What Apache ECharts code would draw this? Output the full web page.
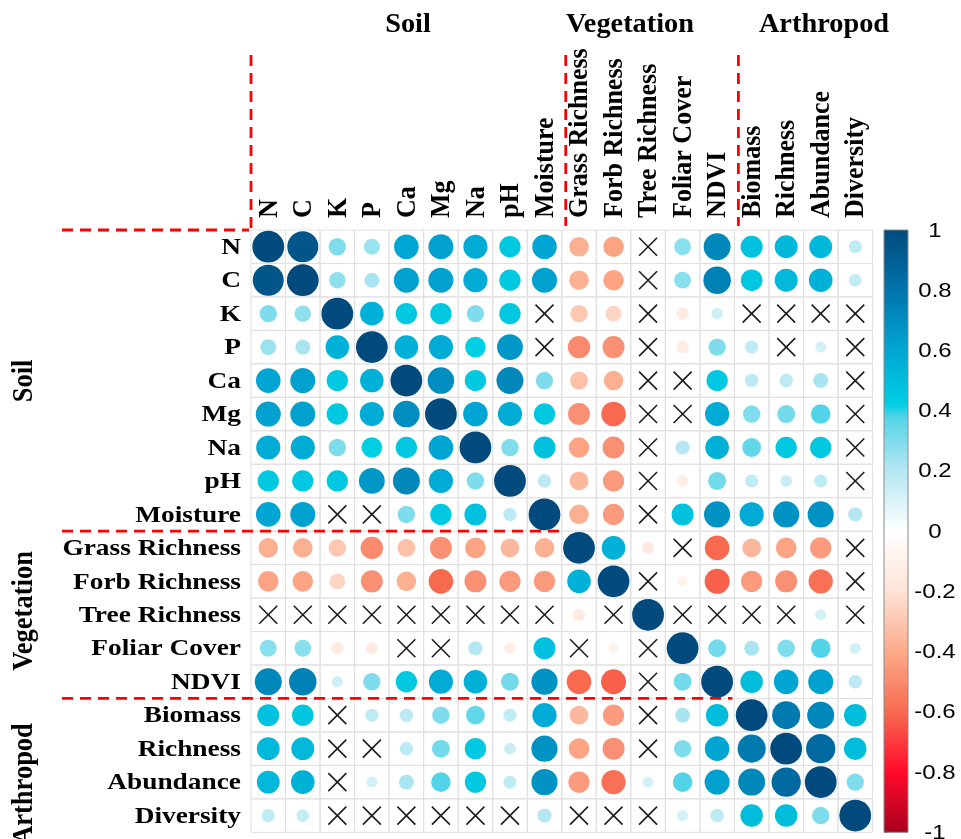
<!DOCTYPE html>
<html>
<head>
<meta charset="utf-8">
<script src="https://cdn.jsdelivr.net/npm/echarts@6/dist/echarts.min.js"></script>
<style>
  html, body { margin: 0; padding: 0; background: #ffffff; }
  #chart { width: 961px; height: 839px; }
</style>
</head>
<body>
<div id="chart"></div>
<script>
// Variables, in matrix order (rows top to bottom, columns left to right)
const varNames = ['N', 'C', 'K', 'P', 'Ca', 'Mg', 'Na', 'pH', 'Moisture',
  'Grass Richness', 'Forb Richness', 'Tree Richness', 'Foliar Cover', 'NDVI',
  'Biomass', 'Richness', 'Abundance', 'Diversity'];

// Variable groups and the index where each one starts
const groupNames = ['Soil', 'Vegetation', 'Arthropod'];
const groupStarts = [0, 9, 14];

// Correlation coefficients, one array per row; null = not significant (cross)
const rowN        = [1.00, 0.95, 0.30, 0.25, 0.60, 0.62, 0.58, 0.45, 0.60, -0.38, -0.42, null, 0.28, 0.72, 0.48, 0.52, 0.52, 0.17];
const rowC        = [0.95, 1.00, 0.27, 0.22, 0.62, 0.62, 0.58, 0.45, 0.62, -0.38, -0.42, null, 0.28, 0.75, 0.46, 0.52, 0.55, 0.16];
const rowK        = [0.30, 0.27, 1.00, 0.55, 0.45, 0.45, 0.30, 0.45, null, -0.30, -0.25, null, -0.15, 0.13, null, null, null, null];
const rowP        = [0.25, 0.22, 0.55, 1.00, 0.55, 0.58, 0.42, 0.66, null, -0.50, -0.48, null, -0.15, 0.30, 0.17, null, 0.12, null];
const rowCa       = [0.60, 0.62, 0.45, 0.55, 1.00, 0.70, 0.45, 0.72, 0.30, -0.32, -0.38, null, null, 0.45, 0.18, 0.18, 0.22, null];
const rowMg       = [0.62, 0.62, 0.45, 0.58, 0.70, 1.00, 0.60, 0.58, 0.45, -0.48, -0.60, null, null, 0.58, 0.30, 0.32, 0.38, null];
const rowNa       = [0.58, 0.58, 0.30, 0.42, 0.45, 0.60, 1.00, 0.30, 0.48, -0.42, -0.48, null, 0.20, 0.55, 0.35, 0.45, 0.45, null];
const rowPH       = [0.45, 0.45, 0.45, 0.66, 0.72, 0.58, 0.30, 1.00, 0.18, -0.35, -0.45, null, -0.13, 0.32, 0.17, 0.14, 0.17, null];
const rowMoisture = [0.60, 0.62, null, null, 0.30, 0.45, 0.48, 0.18, 1.00, -0.38, -0.45, null, 0.48, 0.68, 0.58, 0.68, 0.68, 0.20];
const rowGrass    = [-0.38, -0.38, -0.30, -0.50, -0.32, -0.48, -0.42, -0.35, -0.38, 1.00, 0.55, -0.15, null, -0.60, -0.35, -0.42, -0.45, null];
const rowForb     = [-0.42, -0.42, -0.25, -0.48, -0.38, -0.60, -0.48, -0.45, -0.45, 0.55, 1.00, null, -0.10, -0.62, -0.45, -0.48, -0.58, null];
const rowTree     = [null, null, null, null, null, null, null, null, null, -0.15, null, 1.00, null, null, null, null, 0.12, null];
const rowFoliar   = [0.28, 0.28, -0.15, -0.15, null, null, 0.20, -0.13, 0.48, null, -0.10, null, 1.00, 0.32, 0.22, 0.30, 0.38, 0.12];
const rowNDVI     = [0.72, 0.75, 0.13, 0.30, 0.45, 0.58, 0.55, 0.32, 0.68, -0.60, -0.62, null, 0.32, 1.00, 0.50, 0.60, 0.62, 0.18];
const rowBiomass  = [0.48, 0.46, null, 0.17, 0.18, 0.30, 0.35, 0.17, 0.58, -0.35, -0.45, null, 0.22, 0.50, 1.00, 0.78, 0.72, 0.50];
const rowRichness = [0.52, 0.52, null, null, 0.18, 0.32, 0.45, 0.14, 0.68, -0.42, -0.48, null, 0.30, 0.60, 0.78, 1.00, 0.85, 0.50];
const rowAbund    = [0.52, 0.55, null, 0.12, 0.22, 0.38, 0.45, 0.17, 0.68, -0.45, -0.58, 0.12, 0.38, 0.62, 0.72, 0.85, 1.00, 0.30];
const rowDiv      = [0.17, 0.16, null, null, null, null, null, null, 0.20, null, null, null, 0.12, 0.18, 0.50, 0.50, 0.30, 1.00];

const corrRows = [rowN, rowC, rowK, rowP, rowCa, rowMg, rowNa, rowPH, rowMoisture,
  rowGrass, rowForb, rowTree, rowFoliar, rowNDVI, rowBiomass, rowRichness, rowAbund, rowDiv];

// Colour bar tick values
const colorbarTicks = [1, 0.8, 0.6, 0.4, 0.2, 0, -0.2, -0.4, -0.6, -0.8, -1];

// Diverging palette: value -> colour
const palette = [
  [-1.0, '#a80020'], [-0.8, '#ff0a2a'], [-0.6, '#f76a50'], [-0.4, '#fcaa8a'],
  [-0.2, '#fde3d6'], [0.0, '#ffffff'], [0.2, '#b4e7f2'], [0.38, '#52d4e8'],
  [0.42, '#00cfe3'], [0.6, '#00a6d3'], [0.8, '#0074ab'], [1.0, '#004a7d']
];

function hexToRgb(h) {
  return [parseInt(h.slice(1, 3), 16), parseInt(h.slice(3, 5), 16), parseInt(h.slice(5, 7), 16)];
}
function colorOf(v) {
  for (let k = 0; k < palette.length - 1; k++) {
    const a = palette[k], b = palette[k + 1];
    if (v >= a[0] && v <= b[0]) {
      const t = (v - a[0]) / (b[0] - a[0]);
      const ca = hexToRgb(a[1]), cb = hexToRgb(b[1]);
      const c = ca.map((x, n) => Math.round(x + (cb[n] - x) * t));
      return 'rgb(' + c.join(',') + ')';
    }
  }
  return v < 0 ? palette[0][1] : palette[palette.length - 1][1];
}

const serifBold = '"Liberation Serif", "Times New Roman", serif';

// Matrix cells: [column, row, value, crossFlag]
const cellData = [];
corrRows.forEach((row, i) => row.forEach((v, j) => {
  cellData.push([j, i, v === null ? 0 : v, v === null ? 1 : 0]);
}));

function renderCell(params, api) {
  const c = api.coord([api.value(0), api.value(1)]);
  const s = api.size([1, 1]);
  const w = s[0], h = s[1];
  const children = [{
    type: 'rect',
    shape: { x: c[0] - w / 2, y: c[1] - h / 2, width: w, height: h },
    style: { fill: 'none', stroke: '#e0e0e0', lineWidth: 1 }
  }];
  if (api.value(3) === 1) {
    const d = 9;
    children.push({ type: 'line', shape: { x1: c[0] - d, y1: c[1] - d, x2: c[0] + d, y2: c[1] + d },
      style: { stroke: '#1c1c1c', lineWidth: 1.6 } });
    children.push({ type: 'line', shape: { x1: c[0] - d, y1: c[1] + d, x2: c[0] + d, y2: c[1] - d },
      style: { stroke: '#1c1c1c', lineWidth: 1.6 } });
  } else {
    const v = api.value(2);
    const rad = 0.475 * Math.min(w, h) * Math.sqrt(Math.abs(v));
    children.push({ type: 'circle', shape: { cx: c[0], cy: c[1], r: rad }, style: { fill: colorOf(v) } });
  }
  return { type: 'group', children: children };
}

function renderRowLabel(params, api) {
  const i = api.value(1);
  const c = api.coord([0, i]);
  const w = api.size([1, 1])[0];
  return {
    type: 'text', x: c[0] - w / 2 - 10, y: c[1] + 1, scaleX: 1.14,
    style: { text: varNames[i], font: 'bold 24px ' + serifBold, fill: '#000',
      textAlign: 'right', textVerticalAlign: 'middle' }
  };
}

function renderColLabel(params, api) {
  const j = api.value(0);
  const c = api.coord([j, 0]);
  const h = api.size([1, 1])[1];
  return {
    type: 'text', x: c[0] + 1, y: c[1] - h / 2 - 12, rotation: Math.PI / 2, scaleY: 1.08,
    style: { text: varNames[j], font: 'bold 26px ' + serifBold, fill: '#000',
      textAlign: 'left', textVerticalAlign: 'middle' }
  };
}

// Red dashed separators between variable groups
function renderSeparator(params, api) {
  const k = api.value(0);
  const c = api.coord([k, k]);
  const s = api.size([1, 1]);
  const xb = c[0] - s[0] / 2, yb = c[1] - s[1] / 2;
  const dash = { stroke: '#ff0000', lineWidth: 2.8, lineDash: [11, 7] };
  const vx = xb + (k > 0 ? 4 : 0);
  return {
    type: 'group',
    children: [
      { type: 'line', shape: { x1: vx, y1: 55, x2: vx, y2: k > 0 ? 226 : 229 }, style: dash },
      { type: 'line', shape: { x1: 62, y1: yb, x2: xb - 2, y2: yb }, style: dash }
    ]
  };
}

function renderColorbar(params, api) {
  const top = api.coord([0, 1]);
  const bottom = api.coord([0, -1]);
  const right = api.coord([1, 0]);
  const stops = palette.map(p => ({ offset: (1 - p[0]) / 2, color: p[1] })).reverse();
  return {
    type: 'rect',
    shape: { x: top[0], y: top[1], width: right[0] - top[0], height: bottom[1] - top[1] },
    style: { fill: new echarts.graphic.LinearGradient(0, 0, 0, 1, stops), stroke: '#8a8a8a', lineWidth: 1 }
  };
}

function renderColorbarLabel(params, api) {
  const v = api.value(1);
  const p = api.coord([1, v]);
  return {
    type: 'text', x: p[0] + 27, y: p[1] + 1, scaleX: 1.2,
    style: { text: String(v), font: '20px "Liberation Sans", Arial, sans-serif', fill: '#000',
      textAlign: 'center', textVerticalAlign: 'middle' }
  };
}

const chart = echarts.init(document.getElementById('chart'));

const topTitleFont = 'bold 27px ' + serifBold;
const sideTitleFont = 'bold 26.5px ' + serifBold;
function topTitle(text, x) {
  return { type: 'text', x: x, y: 25, scaleX: 1.05,
    style: { text: text, font: topTitleFont, fill: '#000', textAlign: 'center', textVerticalAlign: 'middle' } };
}
function sideTitle(text, y) {
  return { type: 'text', x: 24, y: y, rotation: Math.PI / 2, scaleY: 1.1,
    style: { text: text, font: sideTitleFont, fill: '#000', textAlign: 'center', textVerticalAlign: 'middle' } };
}

const option = {
  animation: false,
  backgroundColor: '#ffffff',
  grid: [
    { left: 251, top: 230, width: 621.5, height: 602.3 },
    { left: 884, top: 230, width: 24, height: 602.3 }
  ],
  xAxis: [
    { gridIndex: 0, type: 'category', data: varNames, position: 'top',
      axisLine: { show: false }, axisTick: { show: false }, axisLabel: { show: false }, splitLine: { show: false } },
    { gridIndex: 1, type: 'value', min: 0, max: 1, show: false }
  ],
  yAxis: [
    { gridIndex: 0, type: 'category', data: varNames, inverse: true,
      axisLine: { show: false }, axisTick: { show: false }, axisLabel: { show: false }, splitLine: { show: false } },
    { gridIndex: 1, type: 'value', min: -1, max: 1, interval: 0.2, position: 'right',
      axisLine: { show: false }, axisLabel: { show: false }, splitLine: { show: false },
      axisTick: { show: true, length: 4, lineStyle: { color: '#777', width: 1 } } }
  ],
  graphic: [
    topTitle(groupNames[0], 408),
    topTitle(groupNames[1], 630),
    topTitle(groupNames[2], 824),
    sideTitle(groupNames[0], 381),
    sideTitle(groupNames[1], 611),
    sideTitle(groupNames[2], 784)
  ],
  series: [
    { type: 'custom', xAxisIndex: 0, yAxisIndex: 0, data: cellData, renderItem: renderCell, silent: true, z: 2 },
    { type: 'custom', xAxisIndex: 0, yAxisIndex: 0, data: varNames.map((_, i) => [0, i]), renderItem: renderRowLabel, silent: true, z: 3 },
    { type: 'custom', xAxisIndex: 0, yAxisIndex: 0, data: varNames.map((_, j) => [j, 0]), renderItem: renderColLabel, silent: true, z: 3 },
    { type: 'custom', xAxisIndex: 0, yAxisIndex: 0, data: groupStarts.map(k => [k, k]), renderItem: renderSeparator, silent: true, z: 4 },
    { type: 'custom', xAxisIndex: 1, yAxisIndex: 1, data: [[0, 0]], renderItem: renderColorbar, silent: true, z: 2 },
    { type: 'custom', xAxisIndex: 1, yAxisIndex: 1, data: colorbarTicks.map(v => [1, v]), renderItem: renderColorbarLabel, silent: true, z: 3 }
  ]
};
chart.setOption(option);
</script>
</body>
</html>
